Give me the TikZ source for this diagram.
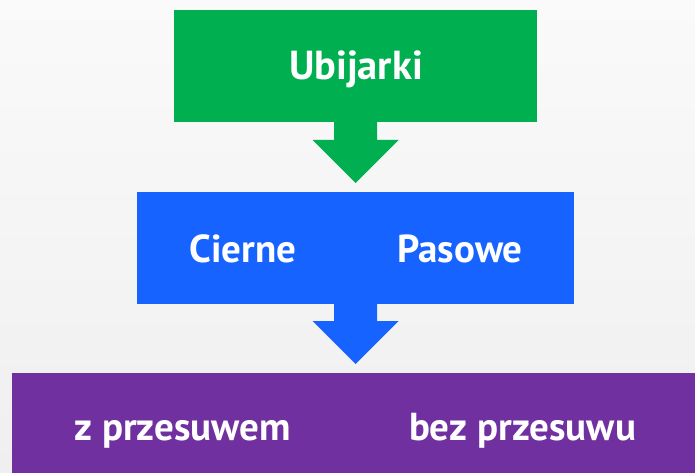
\documentclass[tikz,border=0pt]{standalone}
\usepackage{fontspec}
\setmainfont{PT Sans}
\usetikzlibrary{calc}
\definecolor{gcol}{HTML}{00AF50}
\definecolor{bcol}{HTML}{1763FF}
\definecolor{pcol}{HTML}{7030A0}
\definecolor{bgtop}{HTML}{FAFAFA}
\definecolor{bgbot}{HTML}{EFEFEF}
\begin{document}
\begin{tikzpicture}[x=1pt,y=-1pt,
  box/.style={rectangle, inner sep=0pt, outer sep=0pt, draw=none},
  lbl/.style={anchor=base, text=white, font=\bfseries\fontsize{39}{42}\selectfont, inner sep=0pt}]
\useasboundingbox (0,0) rectangle (695,473);
\shade[top color=bgtop, bottom color=bgbot] (0,0) rectangle (695,473);
% boxes
\node[box, fill=gcol, minimum width=363pt, minimum height=112pt] (g) at (355.5,66) {};
\node[box, fill=bcol, minimum width=437pt, minimum height=112pt] (b) at (355.5,248) {};
\fill[pcol] (12,373) rectangle (695,473);
\node[box, minimum width=683pt, minimum height=100pt] (p) at (353.5,423) {};
% labels
\node[lbl, font=\bfseries\fontsize{40.5}{44}\selectfont] (t1) at (356,80) {Ubijarki};
\node[lbl] (t2) at (243,262) {Cierne};
\node[lbl] (t3) at (460,262) {Pasowe};
\node[lbl] (t4) at (182.5,440) {z przesuwem};
\node[lbl] (t5) at (522.5,440) {bez przesuwu};
% arrows
\coordinate (tipA) at (355.5,183);
\coordinate (tipB) at (355.5,364);
\fill[gcol] ($(g.south)+(-21.5,0)$) -- ++(0,18) -- ++(-21.5,0) -- (tipA) -- ++(43,-43) -- ++(-21.5,0) -- ($(g.south)+(21.5,0)$) -- cycle;
\fill[bcol] ($(b.south)+(-21.5,0)$) -- ++(0,17) -- ++(-21.5,0) -- (tipB) -- ++(43,-43) -- ++(-21.5,0) -- ($(b.south)+(21.5,0)$) -- cycle;
\end{tikzpicture}
\end{document}
